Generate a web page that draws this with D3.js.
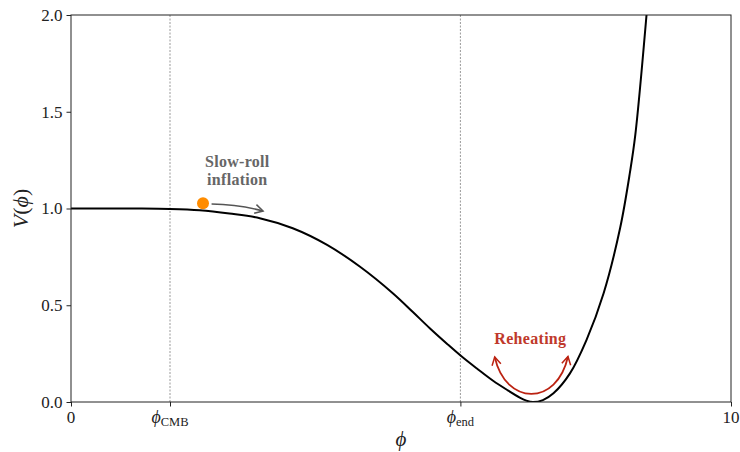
<!DOCTYPE html>
<html>
<head>
<meta charset="utf-8">
<script src="https://cdn.jsdelivr.net/npm/d3@7/dist/d3.min.js"></script>
<style>
  html, body { margin: 0; padding: 0; background: #fff; }
  svg text { font-family: "Liberation Serif", "DejaVu Serif", serif; }
</style>
</head>
<body>
<svg id="chart" width="740" height="452"></svg>
<script>
// Inflaton potential V(phi), sampled along the field
const phi = [0, 0.5, 1.0, 1.5, 1.95, 2.4, 2.86, 3.36, 3.88, 4.38, 4.88, 5.18, 5.44, 5.70, 5.92, 6.15, 6.39, 6.61, 6.80, 6.90, 7.0, 7.15, 7.31, 7.56, 7.81, 8.07, 8.32, 8.47, 8.55, 8.72];
const potential = [1.0, 1.0, 1.0, 0.998, 0.991, 0.974, 0.950, 0.898, 0.812, 0.699, 0.561, 0.465, 0.380, 0.300, 0.235, 0.173, 0.111, 0.062, 0.023, 0.007, 0.0, 0.010, 0.045, 0.148, 0.320, 0.562, 0.899, 1.189, 1.380, 2.0];

// Axis ranges and ticks
const xDomain = [0, 10];
const yDomain = [0, 2];
const yTicks = [0, 0.5, 1.0, 1.5, 2.0];
const phiCMB = 1.5;
const phiEnd = 5.9;
const xTicks = [0, phiCMB, phiEnd, 10];
const xTickLabels = [["0", ""], ["ϕ", "CMB"], ["ϕ", "end"], ["10", ""]];

// Annotation anchors (data coordinates)
const rollerPos = [2.0, 1.027];
const rollArrow = [[2.13, 1.023], [2.91, 0.987]];
const slowRollText = ["Slow-roll", "inflation"];
const slowRollAt = [2.52, 1.215];
const reheatArrow = [[6.42, 0.233], [7.53, 0.235]];
const reheatDip = 0.041;
const reheatText = "Reheating";
const reheatAt = [6.96, 0.30];

const svg = d3.select("#chart");
const m = { left: 71, right: 9, top: 15, bottom: 50 };
const W = 740, H = 452;

const x = d3.scaleLinear().domain(xDomain).range([m.left, W - m.right]);
const y = d3.scaleLinear().domain(yDomain).range([H - m.bottom, m.top]);

const defs = svg.append("defs");
defs.append("clipPath").attr("id", "plotclip")
  .append("rect")
  .attr("x", x(0)).attr("y", y(2))
  .attr("width", x(10) - x(0)).attr("height", y(0) - y(2));

function arrowMarker(id, color) {
  defs.append("marker")
    .attr("id", id)
    .attr("viewBox", "-10 -6 12 12")
    .attr("refX", 0).attr("refY", 0)
    .attr("markerWidth", 12).attr("markerHeight", 12)
    .attr("markerUnits", "userSpaceOnUse")
    .attr("orient", "auto-start-reverse")
    .append("path")
    .attr("d", "M-8,-4.5 L0,0 L-8,4.5")
    .attr("fill", "none")
    .attr("stroke", color)
    .attr("stroke-width", 1.5)
    .attr("stroke-linejoin", "miter");
}
arrowMarker("grayhead", "#555555");
arrowMarker("redhead", "#bb2211");

// Reference lines at phi_CMB and phi_end
svg.selectAll("line.ref").data([phiCMB, phiEnd]).enter().append("line")
  .attr("class", "ref")
  .attr("x1", d => x(d)).attr("x2", d => x(d))
  .attr("y1", y(0)).attr("y2", y(2))
  .attr("stroke", "#999").attr("stroke-width", 1)
  .attr("stroke-dasharray", "2,1.5");

// Potential curve
const line = d3.line()
  .x((d, i) => x(phi[i]))
  .y(d => y(d))
  .curve(d3.curveCatmullRom.alpha(0.5));

svg.append("path")
  .datum(potential)
  .attr("clip-path", "url(#plotclip)")
  .attr("d", line)
  .attr("fill", "none")
  .attr("stroke", "#000")
  .attr("stroke-width", 2);

// Axes
const yAxis = d3.axisLeft(y).tickValues(yTicks).tickFormat(d3.format(".1f")).tickSize(4.5).tickPadding(4);
const xAxis = d3.axisBottom(x).tickValues(xTicks).tickFormat("").tickSize(4.5);

const gy = svg.append("g").attr("transform", `translate(${x(0)},0)`).call(yAxis);
gy.select(".domain").remove();
gy.selectAll("line").attr("stroke", "#222");
gy.selectAll("text").attr("font-size", 17).attr("fill", "#222")
  .attr("font-family", "'Liberation Serif', serif");

const gx = svg.append("g").attr("transform", `translate(0,${y(0)})`).call(xAxis);
gx.select(".domain").remove();
gx.selectAll("line").attr("stroke", "#222");

// x tick labels with math subscripts
const xl = svg.append("g");
xTicks.forEach((v, i) => {
  const [main, sub] = xTickLabels[i];
  const t = xl.append("text")
    .attr("x", x(v))
    .attr("y", y(0) + 21)
    .attr("text-anchor", "middle")
    .attr("font-size", 17)
    .attr("fill", "#222");
  if (sub) {
    t.append("tspan").attr("font-style", "italic").attr("font-size", 18).text(main);
    t.append("tspan").attr("font-size", 12.5).attr("dy", 3).text(sub);
  } else {
    t.text(main);
  }
});

// Frame
svg.append("rect")
  .attr("x", x(0)).attr("y", y(2))
  .attr("width", x(10) - x(0)).attr("height", y(0) - y(2))
  .attr("fill", "none").attr("stroke", "#222").attr("stroke-width", 1);

// Axis titles
svg.append("text")
  .attr("x", (x(0) + x(10)) / 2)
  .attr("y", 446)
  .attr("text-anchor", "middle")
  .attr("font-size", 21)
  .attr("font-style", "italic")
  .attr("fill", "#222")
  .text("ϕ");

const yt = svg.append("text")
  .attr("transform", `translate(28,${y(1)}) rotate(-90)`)
  .attr("text-anchor", "middle")
  .attr("font-size", 22)
  .attr("fill", "#222");
yt.append("tspan").attr("font-style", "italic").text("V");
yt.append("tspan").text("(");
yt.append("tspan").attr("font-style", "italic").text("ϕ");
yt.append("tspan").text(")");

// Slow-roll annotation
svg.append("path")
  .attr("d", () => {
    const [p0, p1] = rollArrow;
    const x0 = x(p0[0]), y0 = y(p0[1]), x1 = x(p1[0]), y1 = y(p1[1]);
    const cx = (x0 + x1) / 2 + 1, cy = (y0 + y1) / 2 - 3;
    return `M${x0},${y0} Q${cx},${cy} ${x1},${y1}`;
  })
  .attr("fill", "none")
  .attr("stroke", "#555555")
  .attr("stroke-width", 1.6)
  .attr("marker-end", "url(#grayhead)");

svg.append("circle")
  .attr("cx", x(rollerPos[0])).attr("cy", y(rollerPos[1]))
  .attr("r", 6)
  .attr("fill", "#ff8c00");

const st = svg.append("text")
  .attr("text-anchor", "middle")
  .attr("font-size", 16)
  .attr("font-weight", "bold")
  .attr("letter-spacing", 0.3)
  .attr("fill", "#666666");
slowRollText.forEach((s, i) => {
  st.append("tspan")
    .attr("x", x(slowRollAt[0]))
    .attr("y", y(slowRollAt[1]) + i * 18)
    .text(s);
});

// Reheating annotation: oscillation about the minimum
svg.append("path")
  .attr("d", () => {
    const [p0, p1] = reheatArrow;
    const x0 = x(p0[0]), y0 = y(p0[1]), x1 = x(p1[0]), y1 = y(p1[1]);
    const yb = y(reheatDip);
    // cubic with steep arms and a rounded floor
    const c1y = yb + (yb - y0) * 0.33;
    return `M${x0},${y0} C${x0 + 11},${c1y} ${x1 - 11},${c1y} ${x1},${y1}`;
  })
  .attr("fill", "none")
  .attr("stroke", "#bb2211")
  .attr("stroke-width", 1.8)
  .attr("marker-start", "url(#redhead)")
  .attr("marker-end", "url(#redhead)");

svg.append("text")
  .attr("x", x(reheatAt[0]))
  .attr("y", y(reheatAt[1]))
  .attr("text-anchor", "middle")
  .attr("font-size", 16)
  .attr("font-weight", "bold")
  .attr("letter-spacing", 0.3)
  .attr("fill", "#c0392b")
  .text(reheatText);
</script>
</body>
</html>
